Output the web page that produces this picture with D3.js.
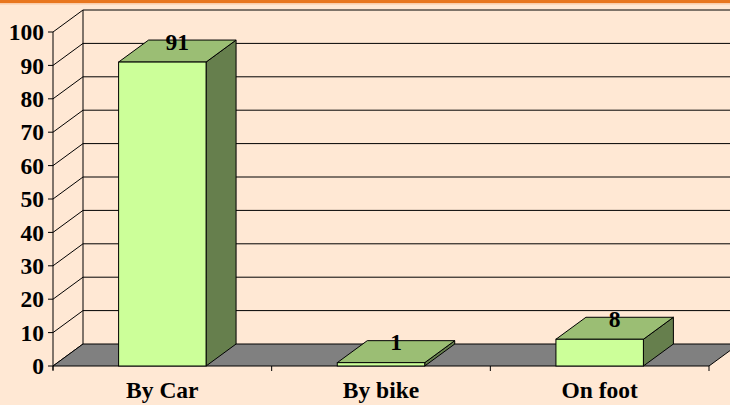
<!DOCTYPE html>
<html lang="en">
<head>
    <meta charset="UTF-8">
    <title>Transport</title>
    <script src="https://cdn.jsdelivr.net/npm/d3@7/dist/d3.min.js"></script>
    <style>
        body { margin: 0; background: #FFE8D4; }
        text { font-family: "Liberation Serif", "Times New Roman", serif; font-weight: bold; fill: #000; }
    </style>
</head>
<body>
<script>
    // data
    const categories = ['By Car', 'By bike', 'On foot'];
    const values = [91, 1, 8];
    const tickValues = [0, 10, 20, 30, 40, 50, 60, 70, 80, 90, 100];

    const width = 730;
    const height = 405;
    const fontSize = '23.5px';

    // 3d depth offset
    const dx = 30;
    const dy = -22;

    const svg = d3.select('body')
        .append('svg')
        .attr('width', width)
        .attr('height', height);

    svg.append('rect')
        .attr('width', width)
        .attr('height', height)
        .attr('fill', '#FFE8D4');

    // orange strip on top
    svg.append('rect')
        .attr('x', 0).attr('y', 0)
        .attr('width', width).attr('height', 3.3)
        .attr('fill', '#E8761E');
    svg.append('rect')
        .attr('x', 0).attr('y', 3.3)
        .attr('width', width).attr('height', 1.3)
        .attr('fill', '#FBCFAE');

    const x = d3.scaleBand()
        .domain(categories)
        .range([53, 709])
        .paddingInner(0.6)
        .paddingOuter(0.3);

    const y = d3.scaleLinear()
        .domain([0, 100])
        .range([366, 32]);

    const x0 = 53, x1 = 709;

    // back wall gridlines
    svg.append('g')
        .selectAll('line')
        .data(tickValues.slice(1))
        .enter()
        .append('line')
        .attr('x1', x0 + dx).attr('x2', width + 20)
        .attr('y1', d => y(d) + dy).attr('y2', d => y(d) + dy)
        .attr('stroke', '#000').attr('stroke-width', 1);

    // side wall diagonals
    svg.append('g')
        .selectAll('line')
        .data(tickValues)
        .enter()
        .append('line')
        .attr('x1', x0).attr('y1', d => y(d))
        .attr('x2', x0 + dx).attr('y2', d => y(d) + dy)
        .attr('stroke', '#000').attr('stroke-width', 1);

    // back wall left edge
    svg.append('line')
        .attr('x1', x0 + dx).attr('x2', x0 + dx)
        .attr('y1', y(0) + dy).attr('y2', y(100) + dy)
        .attr('stroke', '#000');

    // floor
    svg.append('path')
        .attr('d', `M${x0},${y(0)} L${x1},${y(0)} L${x1 + dx},${y(0) + dy} L${x0 + dx},${y(0) + dy} Z`)
        .attr('fill', '#808080')
        .attr('stroke', '#000')
        .attr('stroke-width', 1);

    // bars
    const bars = svg.append('g')
        .selectAll('g')
        .data(categories.map((c, i) => ({ c, v: values[i] })))
        .enter()
        .append('g');

    const bw = x.bandwidth();

    // right side
    bars.append('path')
        .attr('d', d => {
            const xr = x(d.c) + bw, yt = y(d.v), yb = y(0);
            return `M${xr},${yb} L${xr},${yt} L${xr + dx},${yt + dy} L${xr + dx},${yb + dy} Z`;
        })
        .attr('fill', '#667F4D')
        .attr('stroke', '#000')
        .attr('stroke-width', 1);

    // top
    bars.append('path')
        .attr('d', d => {
            const xl = x(d.c), yt = y(d.v);
            return `M${xl},${yt} L${xl + bw},${yt} L${xl + bw + dx},${yt + dy} L${xl + dx},${yt + dy} Z`;
        })
        .attr('fill', '#9BBE74')
        .attr('stroke', '#000')
        .attr('stroke-width', 1);

    // front
    bars.append('rect')
        .attr('x', d => x(d.c))
        .attr('y', d => y(d.v))
        .attr('width', bw)
        .attr('height', d => y(0) - y(d.v))
        .attr('fill', '#CCFF99')
        .attr('stroke', '#000')
        .attr('stroke-width', 1);

    // value labels
    bars.append('text')
        .attr('x', d => x(d.c) + bw / 2 + dx / 2)
        .attr('y', d => y(d.v) - 12.5)
        .attr('text-anchor', 'middle')
        .attr('font-size', fontSize)
        .text(d => d.v);

    // front y axis
    svg.append('line')
        .attr('x1', x0).attr('x2', x0)
        .attr('y1', y(0) + 4).attr('y2', y(100))
        .attr('stroke', '#000');

    const yTicks = svg.append('g')
        .selectAll('g')
        .data(tickValues)
        .enter()
        .append('g');

    yTicks.append('line')
        .attr('x1', x0 - 5).attr('x2', x0)
        .attr('y1', d => y(d)).attr('y2', d => y(d))
        .attr('stroke', '#000');

    yTicks.append('text')
        .attr('x', 44)
        .attr('y', d => y(d))
        .attr('dy', '0.35em')
        .attr('text-anchor', 'end')
        .attr('font-size', fontSize)
        .text(d => d);

    // x axis ticks and labels
    const step = x.step();
    svg.append('g')
        .selectAll('line')
        .data(d3.range(categories.length + 1))
        .enter()
        .append('line')
        .attr('x1', i => x0 + i * step).attr('x2', i => x0 + i * step)
        .attr('y1', y(0)).attr('y2', y(0) + 5)
        .attr('stroke', '#000');

    svg.append('g')
        .selectAll('text')
        .data(categories)
        .enter()
        .append('text')
        .attr('x', d => x(d) + bw / 2)
        .attr('y', 398)
        .attr('text-anchor', 'middle')
        .attr('font-size', fontSize)
        .text(d => d);
</script>
</body>
</html>
